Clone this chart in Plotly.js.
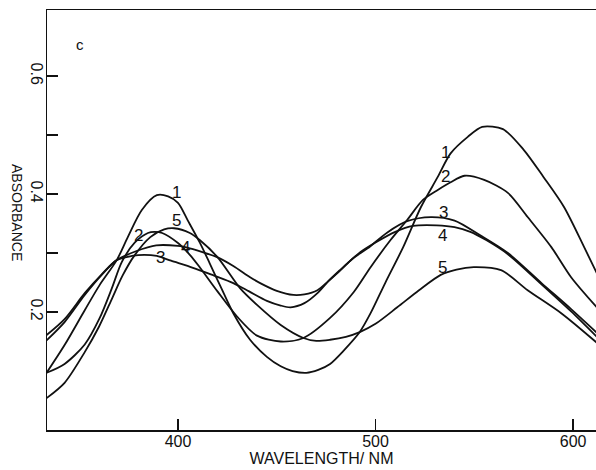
<!DOCTYPE html>
<html>
<head>
<meta charset="utf-8">
<script src="https://cdn.plot.ly/plotly-3.0.1.min.js"></script>
<style>
  html, body { margin: 0; padding: 0; background: #fff; }
  #chart { width: 596px; height: 470px; }
</style>
</head>
<body>
<div id="chart"></div>
<script>
// Absorption spectra, panel c: five solutions, 334-612 nm.
const wl1 = [333.5, 342.6, 352.8, 360.4, 369, 374.6, 381.7, 389.3, 395, 400, 405, 411, 416, 422, 428, 436.5, 445, 452, 458, 465, 471, 477, 484, 492, 497.5, 505, 514, 523, 531.5, 538, 546.7, 554, 564.5, 575, 585, 595.4, 605.6, 612];
const abs1 = [0.097, 0.144, 0.203, 0.246, 0.288, 0.327, 0.373, 0.398, 0.396, 0.385, 0.355, 0.318, 0.283, 0.240, 0.198, 0.153, 0.124, 0.108, 0.100, 0.097, 0.102, 0.112, 0.135, 0.166, 0.198, 0.250, 0.310, 0.378, 0.429, 0.469, 0.497, 0.514, 0.510, 0.475, 0.429, 0.378, 0.310, 0.266];

const wl2 = [333.5, 342.6, 352.8, 360.4, 366.5, 371.6, 378.2, 384.8, 388, 392, 400, 406, 411, 420, 430, 440, 452, 463.5, 477, 489, 497.5, 507.6, 516, 524, 531.5, 538, 545, 555, 567, 577, 589, 599, 612];
const abs2 = [0.097, 0.112, 0.145, 0.190, 0.240, 0.285, 0.318, 0.334, 0.336, 0.334, 0.317, 0.297, 0.276, 0.235, 0.192, 0.160, 0.150, 0.156, 0.190, 0.234, 0.276, 0.322, 0.356, 0.390, 0.407, 0.420, 0.431, 0.424, 0.402, 0.361, 0.310, 0.259, 0.208];

const wl3 = [333.5, 342.6, 352.8, 361.4, 369, 376.6, 383, 389.3, 396.5, 407.6, 418, 428, 436, 445, 452, 457, 464, 470.6, 476, 482, 489, 496, 506, 516, 528, 540, 553, 567, 584, 599, 612];
const abs3 = [0.161, 0.188, 0.232, 0.264, 0.288, 0.295, 0.297, 0.295, 0.287, 0.275, 0.262, 0.249, 0.235, 0.219, 0.211, 0.208, 0.215, 0.232, 0.252, 0.271, 0.292, 0.308, 0.335, 0.354, 0.361, 0.355, 0.330, 0.300, 0.249, 0.205, 0.165];

const wl4 = [333.5, 342.6, 352.8, 361.4, 369, 378.7, 389, 400, 406, 412, 419.8, 428, 436.5, 441.6, 450, 458.4, 464, 470.6, 476, 480.7, 486, 492.4, 500, 510, 519, 531, 540, 548, 556, 567, 584, 599, 612];
const abs4 = [0.152, 0.183, 0.229, 0.263, 0.288, 0.303, 0.313, 0.312, 0.308, 0.302, 0.293, 0.278, 0.259, 0.249, 0.236, 0.229, 0.230, 0.237, 0.252, 0.266, 0.283, 0.302, 0.318, 0.336, 0.346, 0.347, 0.344, 0.336, 0.322, 0.298, 0.247, 0.201, 0.158];

const wl5 = [333.5, 342.6, 352.8, 360, 366.5, 372, 378, 386, 393, 398, 406, 411, 420, 431.5, 440, 452, 463.5, 470, 477, 485, 492, 500, 511, 522, 533, 541, 549.7, 563.5, 577, 594, 612];
const abs5 = [0.054, 0.080, 0.132, 0.175, 0.222, 0.262, 0.296, 0.327, 0.340, 0.342, 0.334, 0.322, 0.293, 0.240, 0.212, 0.178, 0.156, 0.151, 0.153, 0.158, 0.166, 0.180, 0.208, 0.237, 0.263, 0.272, 0.276, 0.271, 0.237, 0.198, 0.148];

const series = [
  [wl1, abs1], [wl2, abs2], [wl3, abs3], [wl4, abs4], [wl5, abs5]
];

// Curve numbers written beside each band: [text, wavelength, absorbance]
const curveLabels = [
  ['1', 399, 0.402], ['5', 399, 0.356], ['2', 380.2, 0.329], ['4', 403.6, 0.310], ['3', 391, 0.292],
  ['1', 535.5, 0.471], ['2', 535.5, 0.429], ['3', 534.5, 0.369], ['4', 534, 0.329], ['5', 534, 0.276]
];

const xTicks = [400, 500, 600];
const yTicks = [0.2, 0.3, 0.4, 0.5, 0.6];
const yTickText = ['0.2', '', '0.4', '', '0.6'];

const FONT = 'Liberation Sans, Arial, sans-serif';

const traces = series.map(([x, y]) => ({
  x: x, y: y,
  type: 'scatter', mode: 'lines',
  line: { color: '#111', width: 1.8, shape: 'spline', smoothing: 0.8 },
  hoverinfo: 'skip', showlegend: false
}));

const annotations = curveLabels.map(([t, x, y]) => ({
  text: t, x: x, y: y, xref: 'x', yref: 'y',
  showarrow: false, font: { family: FONT, size: 17, color: '#111' },
  xanchor: 'center', yanchor: 'middle'
}));

annotations.push({
  text: 'c', xref: 'paper', yref: 'paper', x: 0.06, y: 0.918,
  xanchor: 'center', yanchor: 'middle',
  showarrow: false, font: { family: FONT, size: 15, color: '#111' }
});
annotations.push({
  text: 'ABSORBANCE', xref: 'paper', yref: 'paper', x: 0, y: 0.519,
  xanchor: 'center', yanchor: 'middle',
  xshift: -30, textangle: 90, showarrow: false,
  font: { family: FONT, size: 14, color: '#111' }
});

const layout = {
  width: 596, height: 470,
  margin: { l: 47, r: 0, t: 10, b: 40, pad: 0 },
  paper_bgcolor: '#fff', plot_bgcolor: '#fff',
  xaxis: {
    range: [333.7, 611.6], tickvals: xTicks, ticktext: xTicks.map(String),
    ticks: 'inside', ticklen: 11, tickwidth: 1.5, tickcolor: '#111',
    showline: true, linecolor: '#111', linewidth: 1.5, mirror: true,
    showgrid: false, zeroline: false,
    ticklabelstandoff: -4,
    tickfont: { family: FONT, size: 16, color: '#111' },
    title: { text: 'WAVELENGTH/ NM', standoff: 0, font: { family: FONT, size: 16, color: '#111' } },
    automargin: false
  },
  yaxis: {
    range: [0, 0.712], tickvals: yTicks, ticktext: yTickText,
    ticks: 'inside', ticklen: 11, tickwidth: 1.5, tickcolor: '#111',
    showline: true, linecolor: '#111', linewidth: 1.5,
    showgrid: false, zeroline: false, tickangle: 90,
    ticklabelstandoff: -5,
    tickfont: { family: FONT, size: 16, color: '#111' },
    automargin: false
  },
  annotations: annotations
};

Plotly.newPlot('chart', traces, layout, { staticPlot: true, displayModeBar: false });
</script>
</body>
</html>
